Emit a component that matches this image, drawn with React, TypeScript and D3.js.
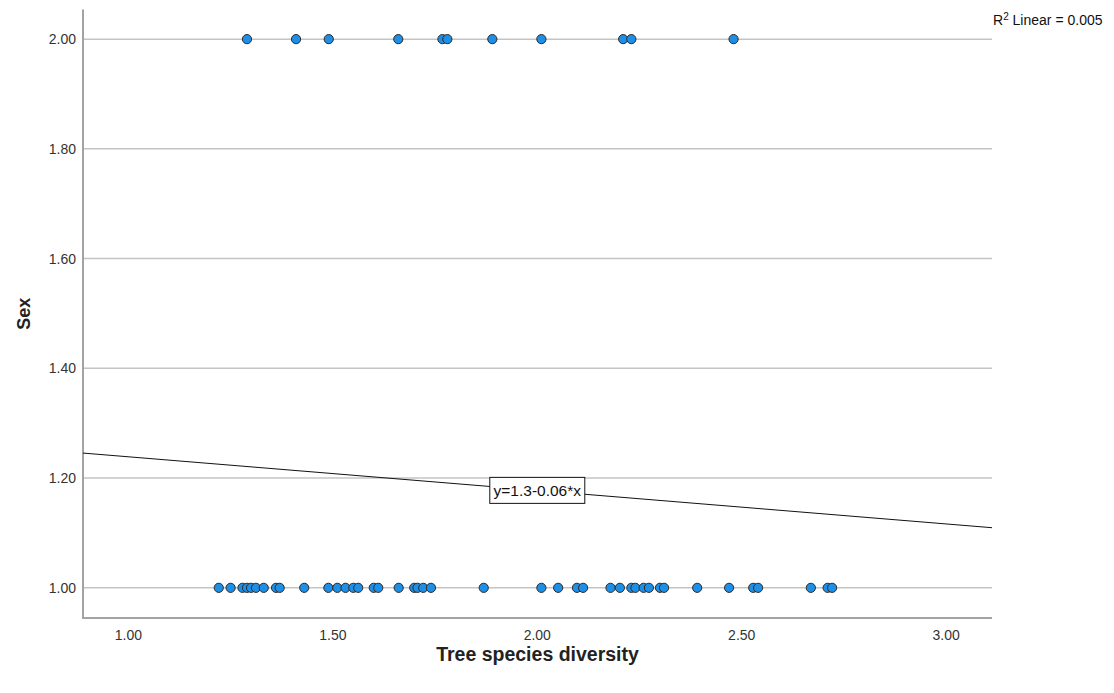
import React from "react";
import * as d3 from "d3";

// Tree species diversity for respondents coded Sex = 2
const diversityGroup2: number[] = [
  1.29, 1.41, 1.49, 1.66, 1.768, 1.78, 1.89, 2.01, 2.21, 2.23, 2.48,
];

// Tree species diversity for respondents coded Sex = 1
const diversityGroup1: number[] = [
  1.221, 1.25, 1.279, 1.29, 1.3, 1.312, 1.331, 1.361, 1.37, 1.43, 1.489,
  1.511, 1.531, 1.55, 1.562, 1.6, 1.611, 1.661, 1.699, 1.707, 1.721, 1.74,
  1.869, 2.01, 2.051, 2.097, 2.112, 2.179, 2.202, 2.23, 2.24, 2.26, 2.273,
  2.3, 2.31, 2.391, 2.469, 2.528, 2.54, 2.669, 2.71, 2.721,
];

const sexCodes: number[] = [2, 1];

const xTicks: number[] = [1.0, 1.5, 2.0, 2.5, 3.0];
const yTicks: number[] = [1.0, 1.2, 1.4, 1.6, 1.8, 2.0];

// Linear fit: Sex = intercept + slope * diversity
const fitIntercept = 1.3;
const fitSlope = -0.0612;
const rSquared = 0.005;

const xDomain: [number, number] = [0.889, 3.112];
const yDomain: [number, number] = [0.945, 2.054];

export default function App() {
  const W = 1114;
  const H = 693;
  const left = 83;
  const right = 992;
  const top = 9.5;
  const bottom = 618;

  const x = d3.scaleLinear().domain(xDomain).range([left, right]);
  const y = d3.scaleLinear().domain(yDomain).range([bottom, top]);

  const fmt = d3.format(".2f");
  const fit = (v: number) => fitIntercept + fitSlope * v;

  const fitLine = d3
    .line<number>()
    .x((d) => x(d))
    .y((d) => y(fit(d)))(xDomain);

  const points = [
    ...diversityGroup2.map((d) => ({ xv: d, yv: sexCodes[0] })),
    ...diversityGroup1.map((d) => ({ xv: d, yv: sexCodes[1] })),
  ];

  const labelX = 2.0;
  const labelText = `y=${d3.format(".1f")(fitIntercept)}-${d3.format(".2f")(
    Math.abs(fitSlope)
  )}*x`;
  const boxW = 95;
  const boxH = 26;

  const font = "'Liberation Sans', Arial, sans-serif";

  return (
    <svg
      width={W}
      height={H}
      style={{ position: "absolute", left: 0, top: 0, background: "#fff" }}
      fontFamily={font}
    >
      {/* horizontal gridlines */}
      {yTicks.map((t) => (
        <line
          key={`g${t}`}
          x1={left}
          x2={right}
          y1={y(t)}
          y2={y(t)}
          stroke="#c4c4c4"
          strokeWidth={1.5}
        />
      ))}

      {/* axes */}
      <line x1={left} x2={left} y1={top} y2={bottom} stroke="#a3a3a3" strokeWidth={2} />
      <line x1={left - 1} x2={right} y1={bottom} y2={bottom} stroke="#a3a3a3" strokeWidth={2} />

      {/* y tick labels */}
      {yTicks.map((t) => (
        <text
          key={`yt${t}`}
          x={76}
          y={y(t) + 5}
          textAnchor="end"
          fontSize={14}
          fill="#333"
        >
          {fmt(t)}
        </text>
      ))}

      {/* x tick labels */}
      {xTicks.map((t) => (
        <text
          key={`xt${t}`}
          x={x(t)}
          y={640}
          textAnchor="middle"
          fontSize={14}
          fill="#333"
        >
          {fmt(t)}
        </text>
      ))}

      {/* axis titles */}
      <text
        x={(left + right) / 2}
        y={661}
        textAnchor="middle"
        fontSize={19.5}
        fontWeight="bold"
        fill="#222"
      >
        Tree species diversity
      </text>
      <text
        transform={`translate(30, ${(top + bottom) / 2}) rotate(-90)`}
        textAnchor="middle"
        fontSize={18}
        fontWeight="bold"
        fill="#222"
      >
        Sex
      </text>

      {/* fit line */}
      <path d={fitLine ?? ""} fill="none" stroke="#111" strokeWidth={1} />

      {/* data points */}
      {points.map((p, i) => (
        <circle
          key={i}
          cx={x(p.xv)}
          cy={y(p.yv)}
          r={4.6}
          fill="#1e8fe6"
          stroke="#2a2a2a"
          strokeWidth={1}
        />
      ))}

      {/* equation label */}
      <g transform={`translate(${x(labelX)}, ${y(fit(labelX))})`}>
        <rect
          x={-boxW / 2}
          y={-boxH / 2}
          width={boxW}
          height={boxH}
          fill="#fff"
          stroke="#111"
          strokeWidth={1}
        />
        <text x={0} y={5.5} textAnchor="middle" fontSize={15.5} fill="#111">
          {labelText}
        </text>
      </g>

      {/* R squared annotation */}
      <text x={993} y={25} fontSize={14} fill="#111">
        R
        <tspan fontSize={10} dy={-5}>
          2
        </tspan>
        <tspan dy={5}>{` Linear = ${d3.format(".3f")(rSquared)}`}</tspan>
      </text>
    </svg>
  );
}
